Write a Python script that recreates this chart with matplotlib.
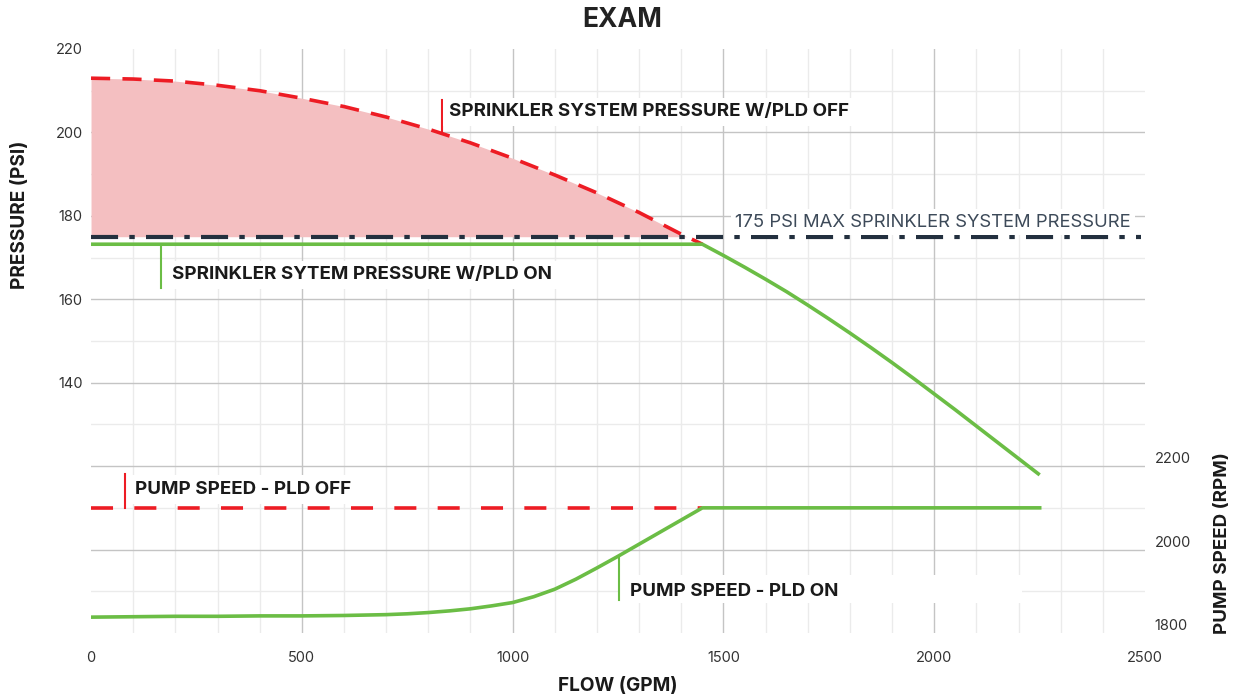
import numpy as np
import matplotlib.pyplot as plt
import matplotlib.transforms as mtransforms
from matplotlib.patches import Rectangle

plt.rcParams['font.family'] = ['Inter', 'DejaVu Sans']

# pressure with PLD off (red dashed)
flowOff = [0, 100, 200, 300, 400, 500, 600, 700, 800, 900, 1000, 1100, 1200, 1300, 1400, 1450]
pressureOff = [213.0, 212.8, 212.3, 211.3, 210.0, 208.2, 206.2, 203.7, 200.8, 197.5,
               193.8, 189.8, 185.5, 180.8, 175.6, 173.2]

# pressure with PLD on (green)
flowOn = [0, 1450, 1500, 1550, 1600, 1650, 1700, 1750, 1800, 1850, 1900, 1950, 2000,
          2050, 2100, 2150, 2200, 2250]
pressureOn = [173.2, 173.2, 170.5, 167.7, 164.8, 161.8, 158.6, 155.3, 151.9, 148.4, 144.8,
              141.1, 137.3, 133.5, 129.6, 125.7, 121.8, 117.9]

maxPressure = 175

# pump speed
flowPumpOff = [0, 1450]
speedPumpOff = [2100, 2100]
flowPumpOn = [0, 100, 200, 300, 400, 500, 600, 700, 750, 800, 850, 900, 950, 1000, 1050,
              1100, 1150, 1200, 1250, 1300, 1350, 1400, 1450, 2250]
speedPumpOn = [1838, 1839, 1840, 1840, 1841, 1841, 1842, 1844, 1846, 1849, 1853, 1858, 1865,
               1873, 1887, 1905, 1929, 1956, 1984, 2013, 2042, 2071, 2100, 2100]

xTicks = [0, 500, 1000, 1500, 2000, 2500]
pressureTicks = [140, 160, 180, 200, 220]
speedTicks = [1800, 2000, 2200]

RED = "#ed1c24"
GREEN = "#6bbd45"
FILL = "#f4bfc1"
NAVY = "#23303f"
TEXT = "#1a1a1a"

fig = plt.figure(figsize=(12.35, 6.94), dpi=100)
ax = fig.add_axes([0.0737, 0.0879, 0.8535, 0.8415])
ax.set_xlim(0, 2500)
ax.set_ylim(80, 220)
ax2 = ax.twinx()
ax2.set_ylim(1800, 3200)

# grid
for x in range(100, 2500, 100):
    if x % 500 != 0:
        ax.axvline(x, color="#ebebeb", lw=1.0, zorder=0)
for y in range(90, 220, 20):
    ax.axhline(y, color="#ebebeb", lw=1.0, zorder=0)
for x in range(500, 2500, 500):
    ax.axvline(x, color="#c4c4c4", lw=1.0, zorder=0.5)
for y in range(100, 220, 20):
    ax.axhline(y, color="#c4c4c4", lw=1.0, zorder=0.5)

# over pressure region
fOff = np.array(flowOff)
pOff = np.array(pressureOff)
ax.fill_between(fOff, pOff, maxPressure, where=pOff >= maxPressure, interpolate=True,
                color=FILL, lw=0, zorder=1)

ax.plot(flowOff, pressureOff, color=RED, lw=2.6, dashes=(5.3, 3.4), zorder=3)
ax.plot(flowOn, pressureOn, color=GREEN, lw=2.6, zorder=3, solid_capstyle="butt")
ax.plot([0, 2490], [maxPressure, maxPressure], color=NAVY, lw=3.0,
        dashes=(6.5, 2.7, 1.3, 2.7), dash_capstyle="butt", zorder=4)

ax2.plot(flowPumpOff, speedPumpOff, color=RED, lw=2.6, dashes=(6.1, 5.9), zorder=3)
ax2.plot(flowPumpOn, speedPumpOn, color=GREEN, lw=2.6, zorder=4)

# labels on the curves
box = dict(facecolor="white", edgecolor="none", pad=4)
lblFont = dict(fontsize=13.5, fontweight="bold", color=TEXT, va="center", ha="left")

ax.plot([833, 833], [199.8, 207.7], color=RED, lw=1.5, zorder=5)
ax.text(849, 204.9, "SPRINKLER SYSTEM PRESSURE W/PLD OFF", bbox=box, zorder=6, **lblFont)

ax.plot([166, 166], [162.8, 173.1], color=GREEN, lw=1.5, zorder=5)
ax.text(192, 165.9, "SPRINKLER SYTEM PRESSURE W/PLD ON", bbox=box, zorder=6, **lblFont)

ax.text(1527, 178.5, "175 PSI MAX SPRINKLER SYSTEM PRESSURE", fontsize=13.3, color="#3d4a59",
        va="center", ha="left", bbox=dict(facecolor="white", edgecolor="none", pad=3), zorder=6)

ax2.plot([81, 81], [2100, 2180], color=RED, lw=1.5, zorder=5)
ax2.text(104, 2144, "PUMP SPEED - PLD OFF", bbox=box, zorder=6, **lblFont)

ax2.add_patch(Rectangle((1255, 1871), 953, 69, facecolor="white", edgecolor="none", zorder=2))
ax2.plot([1252, 1252], [1879, 1980], color=GREEN, lw=1.5, zorder=5)
ax2.text(1278, 1900, "PUMP SPEED - PLD ON", zorder=6, **lblFont)

# axes styling
for a in (ax, ax2):
    for s in a.spines.values():
        s.set_visible(False)
    a.tick_params(length=0, labelsize=10.5, labelcolor="#333333")

ax.set_xticks(xTicks)
ax.set_yticks(pressureTicks)
ax.tick_params(axis="x", pad=13)
ax.tick_params(axis="y", pad=6)
ax2.set_yticks(speedTicks)
ax2.tick_params(axis="y", pad=7)
offset = mtransforms.ScaledTranslation(0, 6 / 72, fig.dpi_scale_trans)
for lab in ax2.get_yticklabels():
    lab.set_transform(lab.get_transform() + offset)

fig.text(0.5036, 0.971, "EXAM", fontsize=19, fontweight="bold", color="#222222",
         ha="center", va="center")
fig.text(0.5004, 0.0115, "FLOW (GPM)", fontsize=13.7, fontweight="bold", color=TEXT,
         ha="center", va="center")
fig.text(0.0162, 0.69, "PRESSURE (PSI)", fontsize=13.7, fontweight="bold", color=TEXT,
         ha="center", va="center", rotation=90)
fig.text(0.9895, 0.218, "PUMP SPEED (RPM)", fontsize=13.5, fontweight="bold", color=TEXT,
         ha="center", va="center", rotation=90)

fig.savefig("out.png", dpi=100)
